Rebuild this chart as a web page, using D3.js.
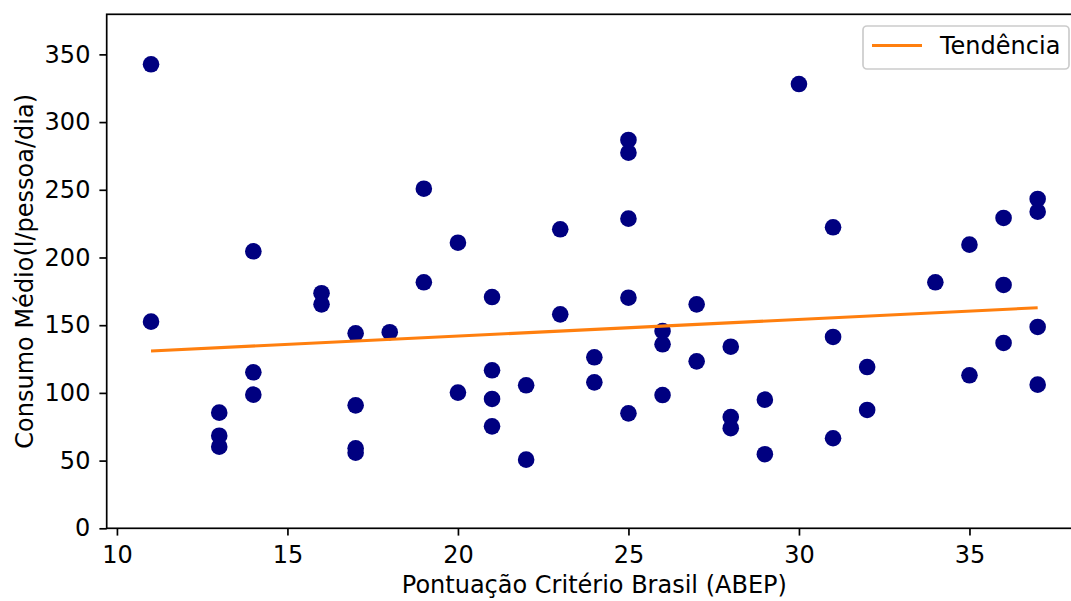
<!DOCTYPE html>
<html>
<head>
<meta charset="utf-8">
<script src="https://cdn.jsdelivr.net/npm/d3@7"></script>
<style>
  body { margin: 0; background: #fff; }
  svg { display: block; font-family: "DejaVu Sans", sans-serif; }
</style>
</head>
<body>
<div id="chart"></div>
<script>
// pontuação ABEP por domicílio
const scoreX = [
  11, 11,
  13, 13, 13,
  14, 14, 14,
  16, 16,
  17, 17, 17, 17,
  18,
  19, 19,
  20, 20,
  21, 21, 21, 21,
  22, 22,
  23, 23,
  24, 24,
  25, 25, 25, 25, 25,
  26, 26, 26,
  27, 27,
  28, 28, 28,
  29, 29,
  30,
  31, 31, 31,
  32, 32,
  34,
  35, 35,
  36, 36, 36,
  37, 37, 37, 37
]

// consumo médio (l/pessoa/dia)
const consumoY = [
  342.7, 152.6,
  85.4, 68.4, 60.3,
  204.6, 115.2, 98.7,
  173.6, 165.4,
  144.0, 90.8, 59.1, 55.8,
  144.8,
  250.8, 181.7,
  210.9, 100.2,
  170.8, 116.7, 95.5, 75.3,
  105.6, 50.7,
  220.8, 158.0,
  126.3, 107.8,
  286.8, 277.4, 228.7, 170.3, 84.9,
  145.7, 135.9, 98.4,
  165.4, 123.3,
  134.1, 82.2, 73.9,
  95.0, 54.7,
  328.1,
  222.3, 141.3, 66.5,
  119.1, 87.4,
  181.7,
  209.5, 113.0,
  229.2, 179.7, 136.9,
  243.2, 233.8, 148.7, 106.1
]

const trendX = [11, 37]
const trendY = [130.9, 162.9]

const xTicks = [10, 15, 20, 25, 30, 35]
const yTicks = [0, 50, 100, 150, 200, 250, 300, 350]

const width = 1071
const height = 601
const fontSize = 24

const margin = {left: 106.7, right: -11, top: 14.3, bottom: 72.7}

const x = d3.scaleLinear()
  .domain([9.7, 38.3])
  .range([margin.left, width - margin.right])

const y = d3.scaleLinear()
  .domain([0, 379.6])
  .range([height - margin.bottom, margin.top])

const svg = d3.select('#chart')
  .append('svg')
  .attr('width', width)
  .attr('height', height)

const xAxis = svg.append('g')
  .attr('transform', `translate(0,${height - margin.bottom})`)
  .call(d3.axisBottom(x).tickValues(xTicks).tickSize(7.3).tickPadding(10))

const yAxis = svg.append('g')
  .attr('transform', `translate(${margin.left},0)`)
  .call(d3.axisLeft(y).tickValues(yTicks).tickSize(7.3).tickPadding(9))

svg.selectAll('.domain').remove()
svg.selectAll('.tick line').attr('stroke', '#000').attr('stroke-width', 1.7)
svg.selectAll('.tick text')
  .attr('fill', '#000')
  .attr('font-family', '"DejaVu Sans", sans-serif')
  .attr('font-size', fontSize)

// spines
const x0 = x.range()[0], x1 = x.range()[1]
const y0 = y.range()[0], y1 = y.range()[1]
svg.append('rect')
  .attr('x', x0)
  .attr('y', y1)
  .attr('width', x1 - x0)
  .attr('height', y0 - y1)
  .attr('fill', 'none')
  .attr('stroke', '#000')
  .attr('stroke-width', 1.7)

svg.append('g')
  .selectAll('circle')
  .data(scoreX.map((d, i) => [d, consumoY[i]]))
  .enter()
  .append('circle')
  .attr('cx', d => x(d[0]))
  .attr('cy', d => y(d[1]))
  .attr('r', 8.3)
  .attr('fill', '#000080')

const line = d3.line()
  .x(d => x(d[0]))
  .y(d => y(d[1]))

svg.append('path')
  .datum(trendX.map((d, i) => [d, trendY[i]]))
  .attr('d', line)
  .attr('fill', 'none')
  .attr('stroke', '#ff7f0e')
  .attr('stroke-width', 3.1)

// legend
const legend = svg.append('g')

legend.append('rect')
  .attr('x', 863)
  .attr('y', 26)
  .attr('width', 206)
  .attr('height', 43)
  .attr('rx', 4)
  .attr('fill', 'rgba(255,255,255,0.8)')
  .attr('stroke', '#cccccc')
  .attr('stroke-width', 1.7)

legend.append('line')
  .attr('x1', 872)
  .attr('x2', 922)
  .attr('y1', 45.5)
  .attr('y2', 45.5)
  .attr('stroke', '#ff7f0e')
  .attr('stroke-width', 3.1)

legend.append('text')
  .attr('x', 940)
  .attr('y', 54)
  .attr('font-size', fontSize)
  .text('Tendência')

svg.append('text')
  .attr('x', (x0 + x1) / 2)
  .attr('y', 593)
  .attr('text-anchor', 'middle')
  .attr('font-size', fontSize)
  .text('Pontuação Critério Brasil (ABEP)')

svg.append('text')
  .attr('transform', `translate(33,${(y0 + y1) / 2}) rotate(-90)`)
  .attr('text-anchor', 'middle')
  .attr('font-size', fontSize)
  .text('Consumo Médio(l/pessoa/dia)')
</script>
</body>
</html>
